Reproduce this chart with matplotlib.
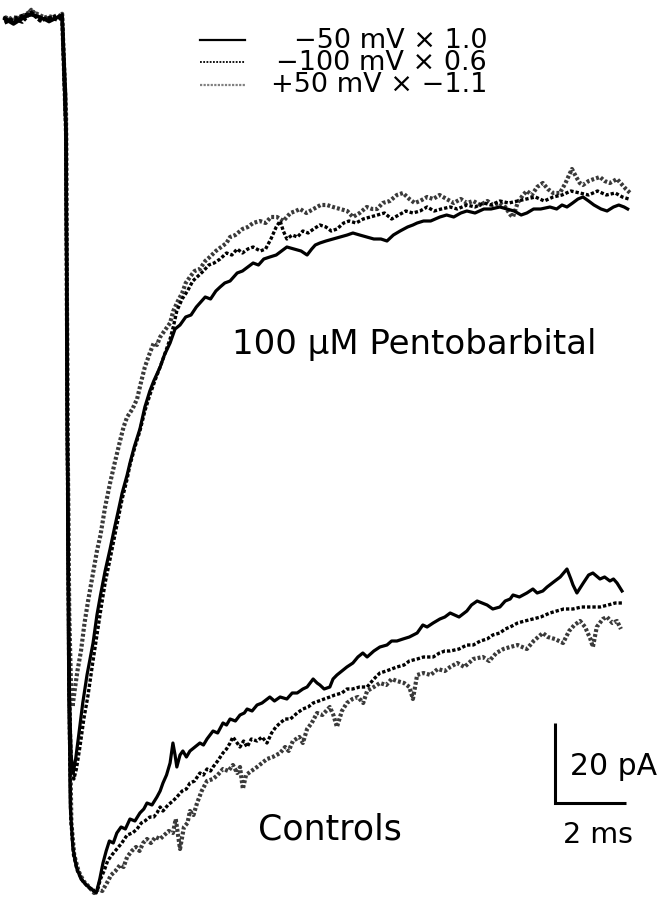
import matplotlib
matplotlib.use("Agg")
import matplotlib.pyplot as plt
from matplotlib.lines import Line2D

plt.rcParams['font.family'] = ['DejaVu Sans']

# ---------------- data: (time ms, current pA) ----------------
ctrl_m50 = [(-1.70,-1.0),(-1.45,-2.3),(-1.20,-0.9),(-0.95,0.3),(-0.70,-0.7),(-0.45,-1.3),(-0.20,-0.5),(-0.08,0.1),
 (0.02,-20),(0.06,-90),(0.10,-160),(0.15,-198),(0.22,-208),(0.32,-213),(0.45,-216),(0.60,-217.5),(0.75,-218.5),(0.88,-219.5),(0.98,-216),(1.07,-212),(1.16,-209),(1.25,-206.5),(1.36,-207),(1.46,-204.5),(1.58,-203),(1.70,-203.5),(1.83,-201),(1.97,-201.5),(2.11,-199.5),(2.22,-198.5),(2.31,-197),(2.45,-197.5),(2.59,-195.5),(2.68,-194),(2.76,-192),(2.86,-190),(2.96,-187),(3.04,-182),(3.10,-185),(3.15,-188),(3.24,-185),(3.32,-184),(3.42,-185.5),(3.52,-184),(3.66,-183),(3.80,-182),(3.90,-182.5),(4.00,-181),(4.17,-179),(4.30,-179.5),(4.45,-177),(4.55,-177.5),(4.65,-176),(4.80,-176.5),(4.93,-175),(5.05,-174.5),(5.13,-173.5),(5.27,-174),(5.41,-172.5),(5.55,-172),(5.77,-170.5),(5.90,-171.5),(6.06,-170.5),(6.25,-171),(6.40,-169.5),(6.54,-169.5),(6.70,-168.5),(6.82,-168),(6.99,-166),(7.10,-167),(7.18,-167.5),(7.30,-168.5),(7.46,-168),(7.55,-166),(7.66,-165),(7.80,-164),(7.94,-163),(8.11,-162),(8.25,-160.5),(8.39,-159.5),(8.51,-160.5),(8.70,-159),(8.87,-158),(9.07,-157.5),(9.20,-156.5),(9.35,-156.5),(9.52,-156),(9.70,-155.5),(9.92,-154.5),(10.08,-152.5),(10.20,-153),(10.37,-152),(10.56,-151),(10.70,-150.5),(10.85,-149.5),(11.10,-150.5),(11.32,-149),(11.45,-147.5),(11.61,-146.5),(11.75,-147),(11.89,-147.5),(12.05,-148.5),(12.25,-148),(12.40,-146.5),(12.54,-146),(12.62,-145),(12.80,-145.5),(13.01,-144.5),(13.18,-143.5),(13.30,-144.5),(13.46,-144),(13.58,-143),(13.80,-141.5),(13.95,-140.5),(14.14,-138.5),(14.25,-141),(14.31,-142.5),(14.42,-144.5),(14.60,-142),(14.75,-140),(14.87,-139.5),(15.07,-141),(15.20,-140.5),(15.35,-141.5),(15.45,-141),(15.55,-142),(15.69,-144)]

ctrl_m100 = [(-1.70,-2.0),(-1.45,-1.0),(-1.20,-1.8),(-0.95,0.7),(-0.70,-1.3),(-0.45,-0.6),(-0.20,-1.3),(-0.08,-0.3),
 (0.03,-30),(0.07,-110),(0.11,-170),(0.16,-200),(0.24,-210),(0.35,-214),(0.50,-216.5),(0.65,-218),(0.80,-219),(0.92,-218.5),(1.00,-216),(1.10,-214),(1.20,-211.5),(1.32,-210),(1.46,-208.5),(1.60,-207),(1.75,-205),(1.90,-204.5),(2.03,-203.5),(2.15,-202),(2.25,-201.5),(2.39,-200.5),(2.50,-200.5),(2.59,-199.5),(2.68,-198),(2.76,-199),(2.90,-197.5),(3.04,-196.5),(3.15,-195.5),(3.30,-194),(3.42,-193.5),(3.52,-192),(3.65,-191.5),(3.80,-189.5),(3.90,-190),(4.00,-188.5),(4.10,-189),(4.17,-188),(4.30,-186.5),(4.45,-184.5),(4.55,-183.5),(4.65,-182),(4.73,-180.5),(4.85,-182),(4.93,-183),(5.03,-181.5),(5.13,-183),(5.25,-181),(5.41,-181.5),(5.55,-180.5),(5.69,-182),(5.82,-179.5),(5.94,-178),(6.06,-177),(6.20,-176),(6.35,-176),(6.54,-174.5),(6.70,-173.5),(6.85,-173),(6.99,-172),(7.15,-171.5),(7.30,-171),(7.46,-170.5),(7.60,-170),(7.80,-169.5),(7.94,-168.5),(8.10,-168.5),(8.30,-168),(8.51,-168),(8.70,-166),(8.87,-164.5),(9.05,-164),(9.20,-163.5),(9.35,-163),(9.55,-162.5),(9.70,-161.5),(9.92,-161),(10.10,-160.5),(10.37,-160.5),(10.55,-159.5),(10.70,-159),(10.85,-159),(11.10,-158.5),(11.32,-157.5),(11.50,-157.5),(11.70,-156.5),(11.89,-156),(12.05,-155),(12.25,-154.5),(12.40,-153.5),(12.54,-153),(12.75,-152),(12.95,-151.5),(13.18,-151),(13.40,-150.5),(13.66,-149.5),(13.85,-149),(14.05,-148.5),(14.31,-148.5),(14.55,-148),(14.80,-148),(15.07,-148),(15.30,-147.5),(15.50,-147),(15.70,-147)]

ctrl_p50 = [(-1.70,-0.5),(-1.45,-1.5),(-1.20,-0.3),(-0.95,1.0),(-0.70,-0.1),(-0.45,-1.1),(-0.20,0.1),(-0.08,-0.7),
 (0.03,-25),(0.07,-100),(0.12,-170),(0.18,-202),(0.26,-210),(0.38,-214),(0.52,-216.5),(0.68,-218),(0.82,-219.5),(0.95,-218.5),(1.05,-219),(1.18,-217),(1.30,-215),(1.42,-214),(1.55,-212.5),(1.65,-213),(1.75,-210.5),(1.88,-209),(2.00,-208),(2.10,-209),(2.20,-207),(2.31,-206),(2.42,-207),(2.55,-205.5),(2.68,-206),(2.80,-205),(2.92,-204),(3.04,-204.5),(3.12,-201),(3.24,-208.5),(3.35,-203),(3.45,-202),(3.52,-199),(3.62,-200),(3.72,-197),(3.85,-194),(4.00,-191.5),(4.17,-191),(4.30,-190),(4.45,-188.5),(4.60,-189),(4.73,-187.5),(4.85,-189.5),(4.93,-188),(5.01,-193.5),(5.10,-190),(5.25,-189),(5.41,-188),(5.55,-187),(5.69,-186),(5.85,-185.5),(6.06,-184.5),(6.20,-183),(6.30,-184),(6.42,-181.5),(6.60,-180.5),(6.70,-182),(6.82,-178.5),(6.95,-177),(7.10,-174.5),(7.25,-175),(7.46,-173),(7.56,-175),(7.66,-178),(7.80,-174),(7.94,-172),(8.10,-171),(8.25,-170.5),(8.40,-172),(8.51,-169),(8.70,-168),(8.87,-167),(9.05,-167.5),(9.20,-166),(9.35,-166.5),(9.55,-167),(9.70,-168),(9.80,-171),(9.92,-165),(10.10,-164.5),(10.30,-165),(10.50,-163.5),(10.70,-164),(10.85,-163),(11.05,-162),(11.25,-163),(11.50,-161),(11.77,-160.5),(11.95,-161.5),(12.15,-159.5),(12.35,-158.5),(12.54,-158),(12.75,-157.5),(13.01,-158.5),(13.20,-156.5),(13.46,-154.5),(13.60,-155.5),(13.80,-156),(14.03,-157),(14.20,-154),(14.35,-152.5),(14.51,-151.5),(14.65,-153),(14.80,-156),(14.87,-158),(14.98,-153),(15.15,-151),(15.27,-150.5),(15.42,-152),(15.55,-151.5),(15.66,-153.5)]

pento_m50 = [(-1.70,-0.7),(-1.45,-1.9),(-1.20,-0.5),(-0.95,0.0),(-0.70,-0.5),(-0.45,-1.7),(-0.20,-0.6),(-0.08,-0.5),
 (0.03,-30),(0.07,-110),(0.12,-168),(0.17,-185),(0.23,-189.5),(0.30,-186),(0.38,-180.5),(0.50,-172),(0.62,-165),(0.79,-157),(0.90,-150),(1.00,-145),(1.13,-139),(1.27,-133.5),(1.40,-128),(1.50,-124),(1.61,-119.5),(1.75,-115),(1.83,-112),(1.95,-108),(2.11,-103.5),(2.25,-98),(2.39,-94),(2.50,-91.5),(2.68,-88),(2.80,-85),(2.96,-82),(3.10,-78.5),(3.24,-77.5),(3.40,-75.5),(3.55,-75),(3.70,-73),(3.80,-72),(3.95,-70.5),(4.10,-71),(4.25,-69),(4.37,-68),(4.50,-67),(4.65,-66.5),(4.75,-65.5),(4.85,-64.5),(5.00,-64),(5.15,-63),(5.30,-62),(5.45,-62.5),(5.60,-61),(5.77,-60.5),(5.95,-60),(6.10,-59),(6.25,-58),(6.45,-58.5),(6.65,-59),(6.82,-60),(6.95,-58.5),(7.05,-57.5),(7.18,-57),(7.35,-56.5),(7.55,-56),(7.75,-55.5),(7.95,-55),(8.11,-54.5),(8.30,-55),(8.50,-55.5),(8.70,-56),(8.90,-56),(9.07,-56.5),(9.25,-55),(9.44,-54),(9.65,-53),(9.80,-52.5),(9.92,-52),(10.10,-51.5),(10.30,-51.5),(10.56,-50.5),(10.75,-50),(10.95,-50.5),(11.15,-49.5),(11.32,-49),(11.55,-49.5),(11.80,-48.5),(12.00,-48.5),(12.25,-48),(12.45,-48.5),(12.65,-49),(12.85,-50),(13.01,-49.5),(13.20,-48.5),(13.40,-48.5),(13.66,-48),(13.85,-48.5),(14.00,-47.5),(14.14,-48),(14.30,-47),(14.45,-46),(14.59,-45.5),(14.75,-46.5),(14.90,-47.5),(15.10,-48.5),(15.27,-49),(15.45,-48),(15.60,-47.5),(15.75,-48),(15.85,-48.5)]

pento_m100 = [(-1.70,-1.7),(-1.45,-0.9),(-1.20,-0.1),(-0.95,0.5),(-0.70,-1.5),(-0.45,-0.7),(-0.20,-0.2),(-0.08,-1.1),
 (0.03,-30),(0.07,-110),(0.12,-170),(0.18,-187),(0.25,-191),(0.32,-188.5),(0.42,-183),(0.53,-176),(0.65,-170),(0.78,-162),(0.90,-155),(1.02,-148),(1.13,-142),(1.27,-136),(1.45,-128),(1.61,-121),(1.75,-116),(1.83,-112.5),(1.97,-108),(2.11,-104),(2.25,-99),(2.39,-95),(2.55,-91),(2.68,-88),(2.82,-84.5),(2.96,-81),(3.05,-78),(3.15,-74),(3.30,-71),(3.45,-69),(3.60,-66.5),(3.72,-65.5),(3.90,-64),(4.05,-62.5),(4.20,-62),(4.37,-61),(4.55,-59.5),(4.70,-60),(4.85,-58.5),(5.00,-59.5),(5.15,-58.5),(5.30,-58),(5.50,-59),(5.65,-58.5),(5.80,-56),(5.95,-53),(6.06,-51.5),(6.15,-54),(6.25,-56),(6.40,-55),(6.55,-55.5),(6.70,-54),(6.85,-54.5),(7.00,-53.5),(7.18,-52.5),(7.35,-53),(7.50,-54),(7.66,-53.5),(7.85,-52),(8.00,-51.5),(8.20,-52),(8.40,-51),(8.60,-50.5),(8.80,-50),(9.00,-49.5),(9.20,-51),(9.40,-50),(9.60,-49),(9.80,-49.5),(10.00,-49),(10.20,-48),(10.40,-49),(10.60,-48.5),(10.85,-48),(11.05,-48.5),(11.32,-47.5),(11.55,-48),(11.80,-47),(12.00,-47.5),(12.25,-46.5),(12.50,-47),(12.75,-46.5),(13.00,-46),(13.25,-45.5),(13.50,-46.5),(13.75,-45.5),(14.00,-45),(14.25,-44),(14.50,-44.5),(14.75,-45),(15.00,-44),(15.25,-45),(15.50,-44.5),(15.70,-45.5),(15.88,-46)]

pento_p50 = [(-1.70,-1.5),(-1.45,-0.5),(-1.20,-1.3),(-0.95,1.3),(-0.70,-1.0),(-0.45,-0.3),(-0.20,-0.9),(-0.08,0.3),
 (0.03,-30),(0.07,-100),(0.12,-150),(0.17,-168),(0.21,-173),(0.27,-169),(0.35,-164),(0.45,-159),(0.55,-152),(0.65,-146.5),(0.78,-140),(0.90,-134),(1.00,-130),(1.13,-123),(1.27,-117),(1.40,-112),(1.55,-106.5),(1.65,-103),(1.75,-100.5),(1.90,-98.5),(2.03,-96),(2.15,-91.5),(2.25,-88),(2.39,-84.5),(2.50,-82),(2.59,-82.5),(2.68,-80.5),(2.80,-79),(2.96,-77),(3.05,-74),(3.18,-71.5),(3.30,-69.5),(3.40,-67),(3.52,-65.5),(3.65,-64),(3.80,-63.5),(3.95,-61.5),(4.08,-60.5),(4.25,-59),(4.40,-58),(4.55,-57),(4.65,-55.5),(4.80,-55),(5.00,-53.5),(5.15,-53),(5.30,-52),(5.49,-51.5),(5.65,-52),(5.80,-50.5),(5.97,-50.5),(6.15,-51.5),(6.35,-49.5),(6.50,-49),(6.62,-48.5),(6.80,-49.5),(7.00,-48.5),(7.20,-47.5),(7.38,-47.5),(7.55,-48),(7.75,-48.5),(7.95,-49),(8.11,-50.5),(8.30,-49.5),(8.50,-48),(8.65,-48.5),(8.79,-48.5),(8.95,-47),(9.15,-46.5),(9.35,-45),(9.52,-44.5),(9.70,-46),(9.85,-47),(10.00,-46.5),(10.20,-45.5),(10.37,-46),(10.55,-45),(10.75,-46),(10.95,-47),(11.15,-46),(11.32,-47),(11.50,-46.5),(11.70,-47.5),(11.90,-46.5),(12.05,-47.5),(12.25,-47),(12.40,-48),(12.55,-50),(12.62,-50.5),(12.75,-47),(12.90,-45),(13.01,-44),(13.15,-45),(13.30,-43),(13.46,-42),(13.60,-43.5),(13.75,-44.5),(13.94,-44.5),(14.10,-42),(14.20,-40),(14.28,-38.5),(14.40,-40.5),(14.50,-42),(14.59,-42.5),(14.75,-41.5),(14.90,-41),(15.07,-40.5),(15.20,-41.5),(15.35,-42),(15.55,-41),(15.70,-42.5),(15.80,-43.5),(15.92,-44.5)]

legend_labels = ["\u221250 mV \u00d7 1.0", "\u2212100 mV \u00d7 0.6", "+50 mV \u00d7 \u22121.1"]
group_labels = ["100 \u03bcM Pentobarbital", "Controls"]
scale_ms = 2
scale_pA = 20
scale_labels = [f"{scale_pA} pA", f"{scale_ms} ms"]

# ---------------- styles ----------------
style_m50 = dict(color="black", lw=2.3, ls="-", solid_joinstyle="round")
style_m100 = dict(color="black", lw=2.4, ls=(0, (1.0, 0.6)))
style_p50 = dict(color="#3a3a3a", lw=3.0, ls=(0, (0.7, 0.5)))

fig = plt.figure(figsize=(6.62, 8.99), dpi=100)
ax = fig.add_axes([0, 0, 1, 1])
ax.set_xlim(-1.831, 16.817)
ax.set_ylim(-221.0, 3.75)
ax.axis("off")

def draw(trace, style):
    t = [p[0] for p in trace]
    i = [p[1] for p in trace]
    ax.plot(t, i, **style)

for tr, st in [(ctrl_p50, style_p50), (pento_p50, style_p50),
               (ctrl_m100, style_m100), (pento_m100, style_m100),
               (ctrl_m50, style_m50), (pento_m50, style_m50)]:
    draw(tr, st)

# legend (manual; one right-aligned multi-line label block)
leg_styles = [dict(color="black", lw=1.6, ls="-"),
              dict(color="black", lw=1.3, ls=(0, (1, 0.8))),
              dict(color="#808080", lw=1.6, ls=(0, (1, 0.6)))]
row_y = [1 - 40/899, 1 - 62/899, 1 - 85/899]
for st, y in zip(leg_styles, row_y):
    ax.add_line(Line2D([200/662, 245/662], [y, y], transform=ax.transAxes, **st))
ax.text(487/662, 1 - 28/899, "\n".join(legend_labels), transform=ax.transAxes,
        ha="right", va="top", multialignment="right", fontsize=19.5,
        linespacing=0.79)

ax.text(232/662, 1 - 354/899, group_labels[0], transform=ax.transAxes,
        ha="left", va="baseline", fontsize=24.5)
ax.text(258/662, 1 - 840/899, group_labels[1], transform=ax.transAxes,
        ha="left", va="baseline", fontsize=25)

# scale bar
x0, y0 = 13.80, -197.0
ax.plot([x0, x0, x0 + scale_ms], [y0 + scale_pA, y0, y0], color="black",
        lw=2.2, solid_capstyle="butt", solid_joinstyle="miter")
ax.text(570/662, 1 - 775/899, scale_labels[0], transform=ax.transAxes,
        ha="left", va="baseline", fontsize=21.5)
ax.text(598/662, 1 - 843/899, scale_labels[1], transform=ax.transAxes,
        ha="center", va="baseline", fontsize=20.5)

fig.savefig("out.png", dpi=100)
